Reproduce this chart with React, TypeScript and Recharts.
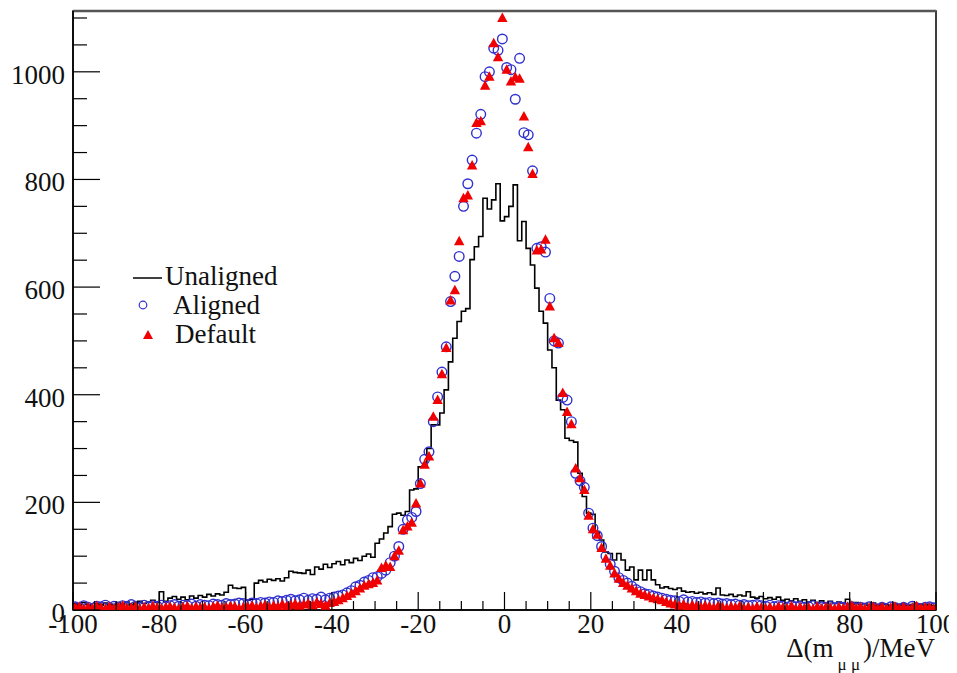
import React from 'react';
import {
  ComposedChart,
  Line,
  Scatter,
  XAxis,
  YAxis,
  ReferenceArea,
  ReferenceLine,
  Legend,
} from 'recharts';

// ---- data ----
const X_MIN = -100;
const X_MAX = 100;
const Y_MAX = 1113;
const BIN_WIDTH = 1;

const X_TICKS = [
  -100, -95, -90, -85, -80, -75, -70, -65, -60, -55, -50, -45, -40, -35, -30, -25, -20, -15, -10, -5,
  0, 5, 10, 15, 20, 25, 30, 35, 40, 45, 50, 55, 60, 65, 70, 75, 80, 85, 90, 95, 100,
];
const Y_TICKS = [
  0, 50, 100, 150, 200, 250, 300, 350, 400, 450, 500, 550, 600, 650, 700, 750, 800, 850, 900, 950,
  1000, 1050, 1100,
];

// bins from -100 to 100, width 1 (values listed from bin -99.5 upward)
const UNALIGNED = [
  12, 8, 14, 10, 6, 12, 9, 13, 8, 10,
  14, 11, 15, 9, 13, 16, 12, 15, 18, 14,
  34, 16, 22, 25, 20, 24, 19, 26, 22, 27,
  24, 29, 26, 30, 28, 33, 46, 41, 40, 42,
  18, 20, 50, 55, 52, 57, 55, 58, 54, 60,
  72, 70, 69, 68, 74, 66, 80, 76, 85, 79,
  86, 90, 84, 93, 88, 96, 92, 100, 104, 98,
  124, 132, 143, 155, 178, 180, 176, 183, 223, 225,
  266, 268, 300, 344, 344, 366, 409, 461, 505, 536,
  555, 560, 651, 675, 694, 765, 745, 762, 792, 723,
  731, 750, 790, 686, 722, 672, 641, 598, 555, 533,
  483, 450, 390, 372, 319, 315, 312, 254, 211, 180,
  178, 146, 130, 108, 105, 93, 105, 93, 74, 80,
  56, 74, 56, 74, 56, 47, 41, 43, 40, 38,
  41, 35, 33, 34, 31, 33, 30, 32, 29, 41,
  28, 27, 29, 25, 28, 26, 34, 24, 22, 25,
  21, 23, 20, 24, 18, 20, 17, 21, 16, 19,
  15, 18, 14, 17, 13, 16, 12, 15, 13, 20,
  11, 14, 10, 12, 9, 13, 8, 11, 10, 7,
  12, 9, 11, 8, 10, 7, 11, 9, 10, 8,
];

const ALIGNED = [
  6, 4, 8, 5, 3, 7, 6, 9, 4, 7,
  5, 8, 6, 10, 7, 5, 9, 6, 8, 7,
  9, 6, 8, 10, 7, 9, 8, 11, 7, 10,
  9, 8, 11, 10, 9, 12, 10, 11, 13, 12,
  10, 13, 12, 14, 13, 15, 14, 17, 16, 18,
  20, 17, 19, 22, 18, 21, 20, 24, 19, 22,
  24, 26, 28, 32, 36, 43, 46, 52, 55, 60,
  62, 68, 74, 88, 100, 118, 150, 167, 172, 183,
  235, 280, 294, 350, 396, 442, 489, 573, 620, 657,
  750, 792, 836, 886, 921, 991, 1000, 1044, 1040, 1061,
  1008, 1004, 949, 1025, 887, 883, 816, 672, 675, 665,
  579, 500, 496, 395, 390, 350, 254, 240, 228, 180,
  152, 138, 118, 100, 85, 72, 60, 55, 50, 44,
  38, 34, 30, 29, 26, 24, 22, 20, 18, 17,
  16, 19, 15, 16, 14, 15, 13, 14, 12, 13,
  11, 12, 10, 11, 9, 10, 8, 9, 10, 8,
  7, 9, 6, 8, 7, 5, 8, 6, 7, 5,
  6, 8, 4, 6, 5, 7, 4, 6, 5, 3,
  6, 4, 5, 3, 6, 4, 2, 5, 3, 6,
  4, 3, 5, 2, 7, 4, 3, 5, 6, 4,
];

const DEFAULT = [
  4, 6, 2, 5, 3, 7, 4, 2, 6, 3,
  5, 8, 3, 4, 6, 2, 5, 3, 7, 4,
  3, 5, 6, 4, 2, 5, 7, 3, 6, 4,
  5, 3, 6, 8, 4, 5, 7, 6, 3, 5,
  6, 8, 4, 7, 9, 5, 8, 6, 10, 7,
  9, 11, 8, 10, 12, 9, 14, 11, 8, 13,
  15, 18, 22, 26, 30, 35, 40, 45, 48, 50,
  55, 78, 82, 80, 100, 110, 148, 155, 162, 198,
  235, 270, 285, 359, 390, 438, 487, 575, 594, 685,
  765, 770, 826, 905, 908, 974, 991, 1053, 1027, 1100,
  1004, 982, 990, 987, 917, 860, 810, 668, 670, 688,
  564, 505, 496, 403, 368, 345, 263, 245, 223, 175,
  150, 140, 115, 95, 82, 68, 58, 50, 45, 40,
  35, 30, 28, 25, 22, 20, 18, 15, 12, 10,
  8, 10, 6, 9, 7, 5, 8, 6, 4, 7,
  5, 3, 6, 4, 7, 3, 5, 2, 6, 4,
  3, 5, 2, 6, 4, 3, 7, 2, 5, 3,
  4, 2, 6, 3, 5, 4, 2, 5, 3, 6,
  8, 3, 5, 2, 4, 6, 3, 5, 2, 4,
  6, 3, 5, 2, 4, 7, 3, 5, 4, 2,
];

// ---- derived tables for the library ----
const histData = [
  ...UNALIGNED.map((v, i) => ({ x: X_MIN + i * BIN_WIDTH, y: v })),
  { x: X_MAX, y: UNALIGNED[UNALIGNED.length - 1] },
];
const alignedData = ALIGNED.map((v, i) => ({ x: X_MIN + (i + 0.5) * BIN_WIDTH, y: v }));
const defaultData = DEFAULT.map((v, i) => ({ x: X_MIN + (i + 0.5) * BIN_WIDTH, y: v }));

// ---- styles ----
const FONT = '"Liberation Serif", "Times New Roman", serif';
const BLUE = '#3030d0';
const RED = '#f00000';

const XTick = (props: any) => {
  const { x, y, payload } = props;
  const v = payload.value;
  const major = v % 20 === 0;
  return (
    <g>
      <line x1={x} x2={x} y1={y} y2={y - (major ? 18 : 9)} stroke="#000" strokeWidth={1.2} />
      {major && (
        <text x={x} y={y + 23} textAnchor="middle" fontFamily={FONT} fontSize={27} fill="#111">
          {v}
        </text>
      )}
    </g>
  );
};

const YTick = (props: any) => {
  const { x, y, payload } = props;
  const v = payload.value;
  const major = v % 200 === 0;
  return (
    <g>
      <line x1={x} x2={x + (major ? 27 : 14)} y1={y} y2={y} stroke="#000" strokeWidth={1.2} />
      {major && (
        <text x={x - 8} y={y + 12} textAnchor="end" fontFamily={FONT} fontSize={27} fill="#111">
          {v}
        </text>
      )}
    </g>
  );
};

const XTitle = (props: any) => {
  const vb = props.viewBox || { x: 65, y: 602, width: 863, height: 63 };
  const right = vb.x + vb.width - 1;
  const base = vb.y + 47;
  return (
    <text x={right} y={base} textAnchor="end" fontFamily={FONT} fontSize={27} fill="#111">
      Δ(m
      <tspan dx={4} dy={13} fontSize={17}>
        μ μ
      </tspan>
      <tspan dx={3} dy={-13}>
        )/MeV
      </tspan>
    </text>
  );
};

const CircleShape = (p: any) => (
  <circle cx={p.cx} cy={p.cy} r={4.8} fill="none" stroke={BLUE} strokeWidth={1.4} />
);

const TriangleShape = (p: any) => (
  <polygon
    points={`${p.cx},${p.cy - 5.5} ${p.cx - 5.2},${p.cy + 4} ${p.cx + 5.2},${p.cy + 4}`}
    fill={RED}
  />
);

const LegendBox = () => (
  <svg width={175} height={95} style={{ overflow: 'visible', display: 'block' }}>
    <line x1={8} x2={37} y1={20} y2={20} stroke="#000" strokeWidth={1.5} />
    <text x={40} y={27} fontFamily={FONT} fontSize={27} fill="#111">
      Unaligned
    </text>
    <circle cx={18} cy={47} r={3.8} fill="none" stroke={BLUE} strokeWidth={1.2} />
    <text x={48} y={56} fontFamily={FONT} fontSize={27} fill="#111">
      Aligned
    </text>
    <polygon points="23,72 18,81 28,81" fill={RED} />
    <text x={50} y={85} fontFamily={FONT} fontSize={27} fill="#111">
      Default
    </text>
  </svg>
);

export default function App() {
  return (
    <div style={{ width: 949, height: 665, background: '#fff' }}>
      <ComposedChart
        width={949}
        height={665}
        margin={{ top: 3, right: 21, bottom: 0, left: 0 }}
        style={{ overflow: 'visible' }}
      >
        <XAxis
          type="number"
          dataKey="x"
          domain={[X_MIN, X_MAX]}
          ticks={X_TICKS}
          interval={0}
          allowDataOverflow
          height={63}
          tickSize={0}
          tickMargin={0}
          tickLine={false}
          axisLine={{ stroke: '#000', strokeWidth: 1.5 }}
          tick={<XTick />}
          label={<XTitle />}
        />
        <YAxis
          type="number"
          dataKey="y"
          domain={[0, Y_MAX]}
          ticks={Y_TICKS}
          interval={0}
          allowDataOverflow
          width={65}
          tickSize={0}
          tickMargin={0}
          tickLine={false}
          axisLine={{ stroke: '#000', strokeWidth: 1.5 }}
          tick={<YTick />}
        />
        <ReferenceArea
          x1={X_MIN}
          x2={X_MAX}
          y1={0}
          y2={Y_MAX}
          fill="none"
          fillOpacity={0}
          stroke="#000"
          strokeWidth={1.5}
          ifOverflow="visible"
        />
        <ReferenceLine y={Y_MAX} stroke="#555" strokeWidth={2.5} ifOverflow="visible" />
        <Line
          data={histData}
          dataKey="y"
          type="stepAfter"
          stroke="#000"
          strokeWidth={1.6}
          dot={false}
          activeDot={false}
          isAnimationActive={false}
          name="Unaligned"
        />
        <Scatter
          data={alignedData}
          dataKey="y"
          shape={<CircleShape />}
          isAnimationActive={false}
          name="Aligned"
        />
        <Scatter
          data={defaultData}
          dataKey="y"
          shape={<TriangleShape />}
          isAnimationActive={false}
          name="Default"
        />
        <Legend
          layout="vertical"
          align="center"
          verticalAlign="middle"
          content={<LegendBox />}
          wrapperStyle={{ position: 'absolute', left: 117, top: 250, width: 175, height: 95 }}
        />
      </ComposedChart>
    </div>
  );
}
